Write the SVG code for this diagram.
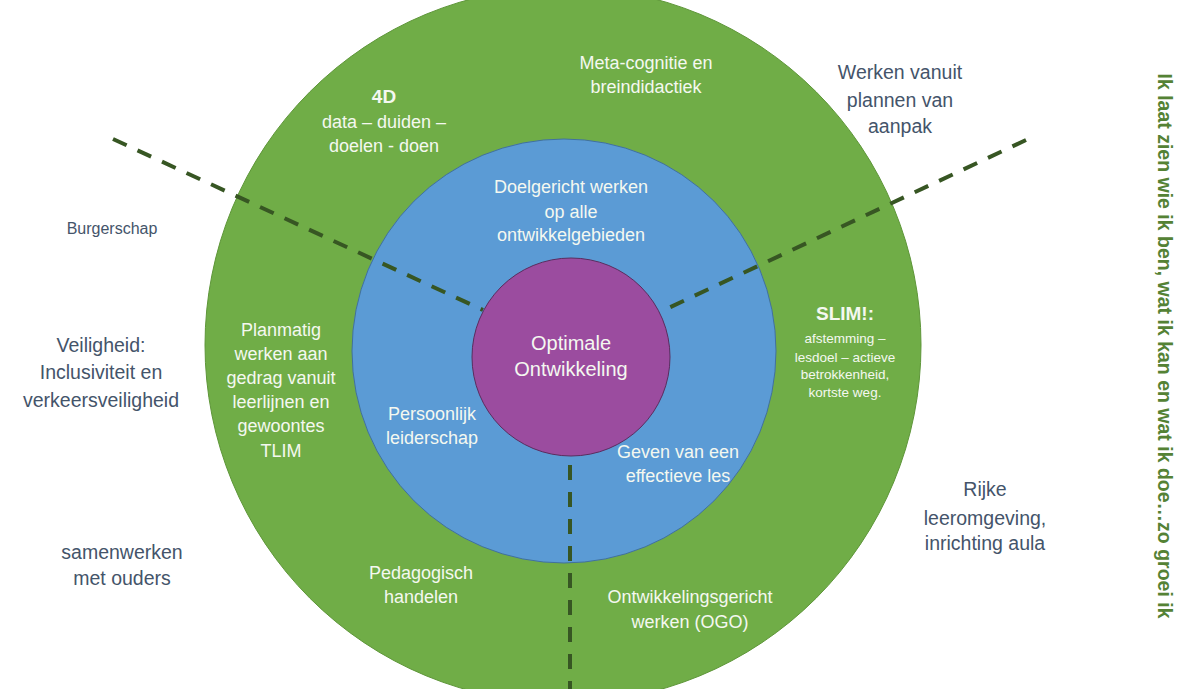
<svg xmlns="http://www.w3.org/2000/svg" width="1178" height="689" viewBox="0 0 1178 689">
<style>
.w{font-family:"Liberation Sans",Arial,sans-serif;font-size:18px;fill:#F4F8F0;text-anchor:middle}
.wb{font-family:"Liberation Sans",Arial,sans-serif;font-size:19px;font-weight:bold;fill:#F4F8F0;text-anchor:middle}
.ws{font-family:"Liberation Sans",Arial,sans-serif;font-size:13.5px;fill:#F4F8F0;text-anchor:middle}
.o{font-family:"Liberation Sans",Arial,sans-serif;font-size:19.5px;fill:#44546A;text-anchor:middle}
.dash{stroke:#375623;stroke-width:4;stroke-dasharray:15 12;fill:none}
</style>
<rect width="1178" height="689" fill="#FFFFFF"/>
<g id="outer-ring">
<circle cx="563" cy="345" r="358" fill="#70AD47" stroke="#5E9639" stroke-width="1"/>
</g>
<g id="middle-ring">
<circle cx="564" cy="351" r="212" fill="#5B9BD5" stroke="#41719C" stroke-width="1"/>
</g>
<g id="connectors">
<line class="dash" x1="113" y1="139" x2="483" y2="310"/>
<line class="dash" x1="1026" y1="140" x2="660" y2="312"/>
<line class="dash" x1="570" y1="465" x2="570" y2="689"/>
</g>
<g id="center">
<circle cx="571" cy="357" r="99" fill="#9B4C9F" stroke="#5B2C5E" stroke-width="1"/>
<text class="w" style="font-size:20px" x="571" y="350">Optimale</text>
<text class="w" style="font-size:20px" x="571" y="376">Ontwikkeling</text>
</g>
<g id="node-4d">
<text class="wb" x="384" y="103">4D</text>
<text class="w" x="384" y="128">data – duiden –</text>
<text class="w" x="384" y="152">doelen - doen</text>
</g>
<g id="node-meta">
<text class="w" x="646" y="69">Meta-cognitie en</text>
<text class="w" x="646" y="93">breindidactiek</text>
</g>
<g id="node-doelgericht">
<text class="w" x="571" y="193">Doelgericht werken</text>
<text class="w" x="571" y="218">op alle</text>
<text class="w" x="571" y="241">ontwikkelgebieden</text>
</g>
<g id="node-slim">
<text class="wb" x="845" y="320">SLIM!:</text>
<text class="ws" x="845" y="343">afstemming –</text>
<text class="ws" x="845" y="362">lesdoel – actieve</text>
<text class="ws" x="845" y="379">betrokkenheid,</text>
<text class="ws" x="845" y="397">kortste weg.</text>
</g>
<g id="node-planmatig">
<text class="w" x="281" y="336">Planmatig</text>
<text class="w" x="281" y="360">werken aan</text>
<text class="w" x="281" y="384">gedrag vanuit</text>
<text class="w" x="281" y="408">leerlijnen en</text>
<text class="w" x="281" y="432">gewoontes</text>
<text class="w" x="281" y="457">TLIM</text>
</g>
<g id="node-persoonlijk">
<text class="w" x="432" y="420">Persoonlijk</text>
<text class="w" x="432" y="444">leiderschap</text>
</g>
<g id="node-geven">
<text class="w" x="678" y="458">Geven van een</text>
<text class="w" x="678" y="482">effectieve les</text>
</g>
<g id="node-pedagogisch">
<text class="w" x="421" y="579">Pedagogisch</text>
<text class="w" x="421" y="603">handelen</text>
</g>
<g id="node-ogo">
<text class="w" x="690" y="603">Ontwikkelingsgericht</text>
<text class="w" x="690" y="628">werken (OGO)</text>
</g>
<g id="label-burgerschap">
<text class="o" style="font-size:16px" x="112" y="234">Burgerschap</text>
</g>
<g id="label-veiligheid">
<text class="o" x="101" y="352">Veiligheid:</text>
<text class="o" x="101" y="379">Inclusiviteit en</text>
<text class="o" x="101" y="407">verkeersveiligheid</text>
</g>
<g id="label-samenwerken">
<text class="o" x="122" y="559">samenwerken</text>
<text class="o" x="122" y="585">met ouders</text>
</g>
<g id="label-werken">
<text class="o" x="900" y="79">Werken vanuit</text>
<text class="o" x="900" y="107">plannen van</text>
<text class="o" x="900" y="133">aanpak</text>
</g>
<g id="label-rijke">
<text class="o" x="985" y="496">Rijke</text>
<text class="o" x="985" y="525">leeromgeving,</text>
<text class="o" x="985" y="550">inrichting aula</text>
</g>
<g id="label-vertical">
<text transform="translate(1158,346) rotate(90)" x="0" y="0" style="font-family:'Liberation Sans',Arial,sans-serif;font-size:19.5px;font-weight:bold;fill:#548235;text-anchor:middle">Ik laat zien wie ik ben, wat ik kan en wat ik doe…zo groei ik</text>
</g>
</svg>
